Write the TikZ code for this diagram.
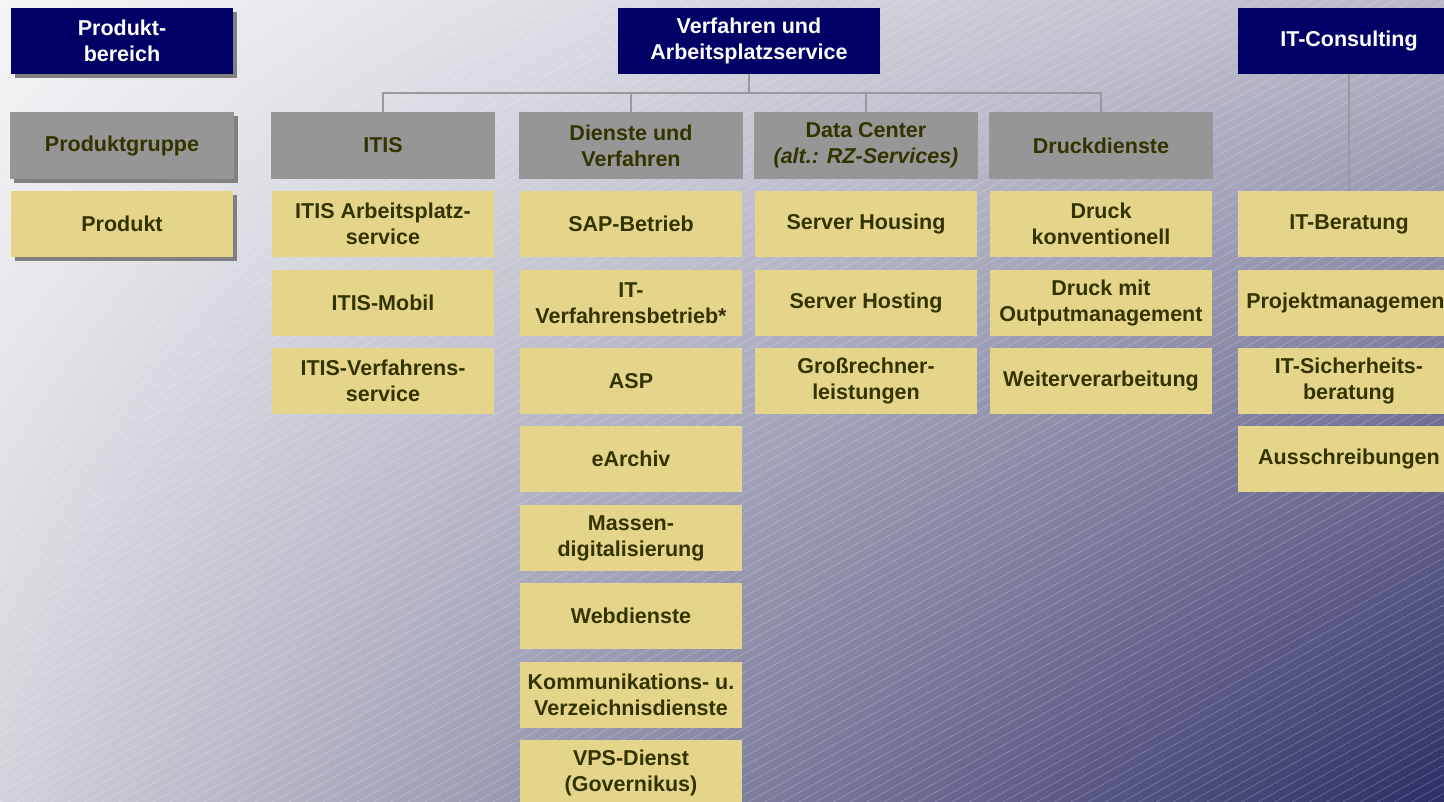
\documentclass[tikz,border=0pt]{standalone}
\usepackage{fontspec}
\setmainfont{Liberation Sans}
\usepackage{tikz}
\usetikzlibrary{shadows,shadings}
\definecolor{marine}{RGB}{0,0,102}
\definecolor{grisbox}{RGB}{150,150,150}
\definecolor{sable}{RGB}{229,213,139}
\definecolor{texte}{RGB}{51,51,0}
\definecolor{ombre}{RGB}{128,128,128}
\definecolor{trait}{RGB}{153,153,153}
\definecolor{fondA}{RGB}{246,246,248}
\definecolor{fondB}{RGB}{184,184,200}
\definecolor{fondC}{RGB}{210,210,218}
\definecolor{fondD}{RGB}{46,46,102}

\begin{document}
\begin{tikzpicture}[x=1pt,y=-1pt,
  box/.style={minimum width=222pt,minimum height=66pt,align=center,inner sep=0pt,
    font=\fontsize{21.5}{26}\selectfont\bfseries,text=texte},
  tete/.style={box,fill=marine,text=white},
  groupe/.style={box,fill=grisbox,minimum width=224pt,minimum height=67pt},
  produit/.style={box,fill=sable},
  ombrage/.style={drop shadow={shadow xshift=4pt,shadow yshift=-4pt,fill=ombre,opacity=1}},
  conn/.style={draw=trait,line width=2pt}]
\useasboundingbox (0,0) rectangle (1444,802);
\clip (0,0) rectangle (1444,802);

% fond
\shade[upper left=fondA,upper right=fondB,lower left=fondC,lower right=fondD] (0,0) rectangle (1444,802);
\foreach \k in {-86,...,86}
  \draw[white,opacity=0.22,line width=0.7pt] (\k*17,802) -- ++(1447,-802);

% legende
\node[tete,ombrage] (bereich) at (122,41) {Produkt-\\bereich};
\node[groupe,ombrage] (gruppe) at (122,145.5) {Produktgruppe};
\node[produit,ombrage] (produkt) at (122,224) {Produkt};

% bereiche
\node[tete,minimum width=262pt] (verf) at (749,41) {Verfahren und\\Arbeitsplatzservice};
\node[tete] (itc) at (1349,41) {IT-Consulting};

% gruppen
\node[groupe] (itis) at (383,145.5) {ITIS};
\node[groupe] (dv) at (631,145.5) {Dienste und\\Verfahren};
\node[groupe] (dc) at (866,145.5) {Data Center\\\textit{(alt.: RZ-Services)}};
\node[groupe] (druck) at (1101,145.5) {Druckdienste};

% produkte
\node[produit] (itisA) at (383,224) {ITIS Arbeitsplatz-\\service};
\node[produit] (itisB) at (383,303) {ITIS-Mobil};
\node[produit] (itisC) at (383,381) {ITIS-Verfahrens-\\service};

\node[produit] (dvA) at (631,224) {SAP-Betrieb};
\node[produit] (dvB) at (631,303) {IT-\\Verfahrensbetrieb*};
\node[produit] (dvC) at (631,381) {ASP};
\node[produit] (dvD) at (631,459) {eArchiv};
\node[produit] (dvE) at (631,538) {Massen-\\digitalisierung};
\node[produit] (dvF) at (631,616) {Webdienste};
\node[produit] (dvG) at (631,695) {Kommunikations- u.\\Verzeichnisdienste};
\node[produit] (dvH) at (631,773) {VPS-Dienst\\(Governikus)};

\node[produit] (dcA) at (866,224) {Server Housing};
\node[produit] (dcB) at (866,303) {Server Hosting};
\node[produit] (dcC) at (866,381) {Großrechner-\\leistungen};

\node[produit] (druckA) at (1101,224) {Druck\\konventionell};
\node[produit] (druckB) at (1101,303) {Druck mit\\Outputmanagement};
\node[produit] (druckC) at (1101,381) {Weiterverarbeitung};

\node[produit] (itber) at (1349,224) {IT-Beratung};
\node[produit] (itpm) at (1349,303) {Projektmanagement};
\node[produit] (itsich) at (1349,381) {IT-Sicherheits-\\beratung};
\node[produit] (itaus) at (1349,459) {Ausschreibungen};

% verbindungen
\coordinate (bus) at (0,93);
\draw[conn] (verf.south) -- (verf.south |- bus);
\draw[conn] (itis.north) -- (itis.north |- bus) -- (druck.north |- bus) -- (druck.north);
\draw[conn] (dv.north) -- (dv.north |- bus);
\draw[conn] (dc.north) -- (dc.north |- bus);
\draw[conn] (itc.south) -- (itber.north);

\end{tikzpicture}
\end{document}
